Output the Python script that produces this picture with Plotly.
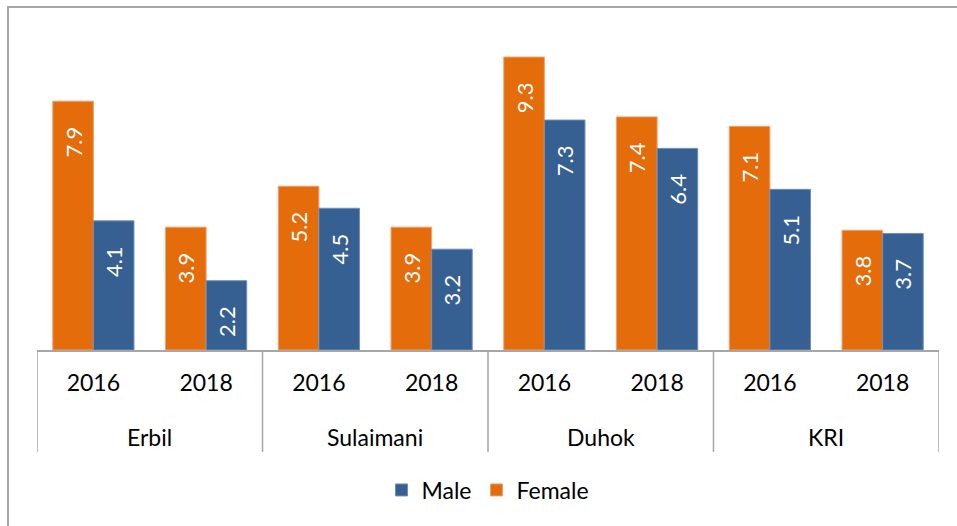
import plotly.graph_objects as go

regions = ["Erbil", "Sulaimani", "Duhok", "KRI"]
years = ["2016", "2018", "2016", "2018", "2016", "2018", "2016", "2018"]
categories = ["Erbil 2016", "Erbil 2018", "Sulaimani 2016", "Sulaimani 2018",
              "Duhok 2016", "Duhok 2018", "KRI 2016", "KRI 2018"]
female = [7.9, 3.9, 5.2, 3.9, 9.3, 7.4, 7.1, 3.8]
male = [4.1, 2.2, 4.5, 3.2, 7.3, 6.4, 5.1, 3.7]

FONT = "Lato"
ORANGE = "#E46C0A"
BLUE = "#376092"
GRID = "#A6A6A6"
PAD = "\u00a0\u00a0\u00a0\u00a0"

fig = go.Figure()
fig.add_trace(go.Bar(
    x=categories, y=female, name="Female",
    marker=dict(color=ORANGE, line=dict(color="#F0A070", width=1)),
    text=[f"{v:.1f}{PAD}" for v in female], textposition="inside",
    insidetextanchor="end", textangle=-90,
    textfont=dict(color="white", size=22, family=FONT),
))
fig.add_trace(go.Bar(
    x=categories, y=male, name="Male",
    marker=dict(color=BLUE, line=dict(color="#6F8FB8", width=1)),
    text=[f"{v:.1f}{PAD}" for v in male], textposition="inside",
    insidetextanchor="end", textangle=-90,
    textfont=dict(color="white", size=22, family=FONT),
))

plot_h = 526 - 35 - 176
shapes = []
for i in range(len(regions) + 1):
    shapes.append(dict(type="line", xref="x", yref="paper",
                       x0=2 * i - 0.5, x1=2 * i - 0.5, y0=0, y1=-(452 - 350) / plot_h,
                       line=dict(color=GRID, width=1.5)))
shapes.append(dict(type="rect", xref="paper", yref="paper",
                   x0=(8 - 37) / 902, x1=1.2, y0=-1.0, y1=1 + (35 - 7) / plot_h,
                   line=dict(color=GRID, width=2), fillcolor="rgba(0,0,0,0)", layer="below"))

annotations = []
for i, r in enumerate(regions):
    annotations.append(dict(text=r, xref="x", yref="paper", x=2 * i + 0.5,
                            y=-(437 - 350) / plot_h, showarrow=False,
                            xanchor="center", yanchor="middle",
                            font=dict(size=23, family=FONT, color="black")))

fig.update_layout(
    width=957, height=526,
    margin=dict(l=37, r=18, t=35, b=176, autoexpand=False),
    paper_bgcolor="white", plot_bgcolor="white",
    barmode="group", bargap=0.28, bargroupgap=0,
    font=dict(family=FONT, size=23, color="black"),
    showlegend=True,
    legend=dict(orientation="h", x=0.5, xanchor="center", y=-(490 - 350) / plot_h,
                yanchor="middle", traceorder="reversed",
                font=dict(size=23, family=FONT)),
    xaxis=dict(
        type="category", range=[-0.5, 7.5], showline=True, linecolor=GRID, linewidth=1.5,
        tickmode="array", tickvals=categories, ticktext=years,
        ticks="", ticklabelstandoff=12, automargin=False,
        tickfont=dict(size=23, family=FONT, color="black"),
    ),
    yaxis=dict(range=[0, 10], visible=False),
    shapes=shapes,
    annotations=annotations,
)

fig.write_html("out.html", config={"displayModeBar": False},
               post_script="document.body.style.margin='0';")
